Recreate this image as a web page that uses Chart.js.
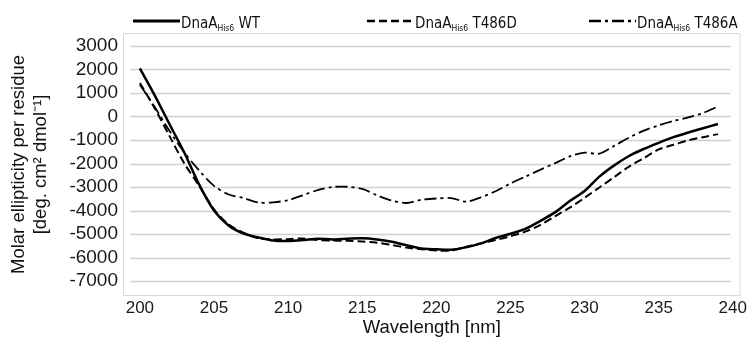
<!DOCTYPE html>
<html>
<head>
<meta charset="utf-8">
<script src="https://cdn.jsdelivr.net/npm/chart.js@4/dist/chart.umd.min.js"></script>
<style>
  html, body { margin: 0; padding: 0; background: #fff; }
  #wrap { width: 749px; height: 340px; position: relative; }
</style>
</head>
<body>
<div id="wrap"><canvas id="cd"></canvas></div>
<script>
// ---------- Data ----------
const wavelengths = [200, 201, 202, 203, 204, 205, 206, 207, 208, 209,
  210, 211, 212, 213, 214, 215, 216, 217, 218, 219,
  220, 221, 222, 223, 224, 225, 226, 227, 228, 229,
  230, 231, 232, 233, 234, 235, 236, 237, 238, 239];

const wt = [2050, 900, -330, -1540, -2900, -4000, -4650, -4980, -5150, -5280,
  -5300, -5260, -5200, -5230, -5200, -5180, -5230, -5330, -5480, -5620,
  -5650, -5670, -5560, -5400, -5170, -4990, -4780, -4450, -4080, -3600,
  -3170, -2560, -2080, -1680, -1380, -1120, -880, -680, -500, -320];

const t486d = [1430, 350, -835, -2000, -2950, -3950, -4600, -4950, -5185, -5230,
  -5220, -5190, -5260, -5280, -5290, -5320, -5370, -5470, -5580, -5650,
  -5700, -5700, -5550, -5400, -5260, -5090, -4900, -4620, -4250, -3880,
  -3460, -3020, -2580, -2130, -1770, -1400, -1200, -1010, -880, -750];

const t486a = [1355, 400, -620, -1530, -2300, -2950, -3320, -3470, -3660, -3650,
  -3560, -3350, -3130, -3000, -2990, -3080, -3350, -3580, -3680, -3545,
  -3490, -3470, -3620, -3440, -3180, -2850, -2560, -2270, -1990, -1700,
  -1540, -1580, -1250, -900, -600, -380, -190, -40, 150, 430];

const seriesNames = ['WT', 'T486D', 'T486A'];
const xTicks = [200, 205, 210, 215, 220, 225, 230, 235, 240];
const yTicks = [3000, 2000, 1000, 0, -1000, -2000, -3000, -4000, -5000, -6000, -7000];

const pts = vals => wavelengths.map((w, i) => ({ x: w, y: vals[i] }));

// ---------- Plugins ----------
// Light grey frame round the plot + inset horizontal gridlines (Excel look)
const frame = {
  id: 'frame',
  beforeDatasetsDraw(c) {
    const { ctx, chartArea: a, scales: { x, y } } = c;
    ctx.save();
    ctx.strokeStyle = '#d9d9d9';
    ctx.lineWidth = 1;
    ctx.strokeRect(a.left + 0.5, a.top + 0.5, a.right - a.left - 1, a.bottom - a.top - 1);
    ctx.strokeStyle = '#d0d0d0';
    ctx.lineWidth = 1.5;
    const x0 = x.getPixelForValue(199.35), x1 = x.getPixelForValue(239.85);
    yTicks.forEach(v => {
      const py = Math.round(y.getPixelForValue(v)) + 0.5;
      ctx.beginPath(); ctx.moveTo(x0, py); ctx.lineTo(x1, py); ctx.stroke();
    });
    ctx.restore();
  }
};

// Legend with subscript "His6" (the built-in legend cannot do subscripts)
const subLegend = {
  id: 'subLegend',
  afterDraw(c, args, opts) {
    const ctx = c.ctx;
    ctx.save();
    c.data.datasets.forEach((ds, i) => {
      const x0 = opts.starts[i], len = opts.lineLen, ly = opts.y;
      ctx.strokeStyle = ds.borderColor;
      ctx.lineWidth = ds.borderWidth + 0.5;
      ctx.setLineDash(ds.borderDash || []);
      ctx.beginPath(); ctx.moveTo(x0, ly); ctx.lineTo(x0 + len, ly); ctx.stroke();
      ctx.setLineDash([]);
      ctx.fillStyle = '#111';
      ctx.textBaseline = 'alphabetic';
      let tx = x0 + len + 1;
      ctx.font = opts.font;
      ctx.fillText('DnaA', tx, ly + 7);
      tx += ctx.measureText('DnaA').width;
      ctx.font = opts.subFont;
      ctx.fillText('His6', tx, ly + 10);
      tx += ctx.measureText('His6').width;
      ctx.font = opts.font;
      ctx.fillText(' ' + seriesNames[i], tx, ly + 7);
    });
    ctx.restore();
  }
};

const xTickFont = { family: 'Liberation Sans, Arial, sans-serif', size: 17 };
const yTickFont = { family: 'Liberation Sans, Arial, sans-serif', size: 19 };
const titleFont = { family: 'Liberation Sans, Arial, sans-serif', size: 18.5 };

new Chart(document.getElementById('cd'), {
  type: 'line',
  data: {
    datasets: [
      { label: seriesNames[0], data: pts(wt), borderColor: '#000', borderWidth: 2.5, pointRadius: 0, tension: 0.3 },
      { label: seriesNames[1], data: pts(t486d), borderColor: '#000', borderWidth: 2, borderDash: [8, 4], pointRadius: 0, tension: 0.3 },
      { label: seriesNames[2], data: pts(t486a), borderColor: '#000', borderWidth: 1.8, borderDash: [12, 4, 3, 4], pointRadius: 0, tension: 0.3 },
    ],
  },
  options: {
    responsive: true,
    maintainAspectRatio: false,
    animation: false,
    layout: { padding: { top: 33, right: 4, left: 0, bottom: 0 } },
    plugins: {
      legend: { display: false },
      tooltip: { enabled: false },
      subLegend: {
        starts: [133, 367, 589], lineLen: 47, y: 21,
        font: '15px "Liberation Sans Narrow", "DejaVu Sans Condensed", sans-serif',
        subFont: '8.5px "Liberation Sans Narrow", "DejaVu Sans Condensed", sans-serif',
      },
    },
    scales: {
      x: {
        type: 'linear',
        min: 198.86, max: 240.52,
        afterBuildTicks: s => { s.ticks = xTicks.map(v => ({ value: v })); },
        afterFit: s => { s.height = 44; },
        grid: { display: false, drawTicks: false },
        border: { display: false },
        ticks: { color: '#1a1a1a', font: xTickFont, padding: 2, maxRotation: 0, autoSkip: false, callback: v => String(v) },
        title: { display: true, text: 'Wavelength [nm]', color: '#111', font: titleFont, padding: { top: 0, bottom: 1 } },
      },
      y: {
        min: -7638, max: 3553,
        afterBuildTicks: s => { s.ticks = yTicks.map(v => ({ value: v })); },
        afterFit: s => { s.width = 123; },
        grid: { display: false, drawTicks: false },
        border: { display: false },
        ticks: { color: '#1a1a1a', font: yTickFont, padding: 5, autoSkip: false, callback: v => String(v) },
        title: {
          display: true,
          text: ['Molar ellipticity per residue', '[deg. cm\u00b2 dmol\u207b\u00b9]'],
          color: '#111', font: titleFont, padding: { top: 8, bottom: 0 },
        },
      },
    },
  },
  plugins: [frame, subLegend],
});
</script>
</body>
</html>
